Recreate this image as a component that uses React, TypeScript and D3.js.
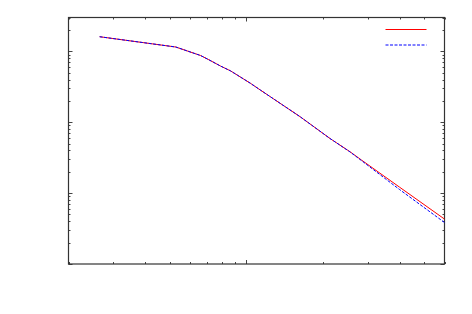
import React, { useEffect, useRef } from "react";
import * as d3 from "d3";

// (log-log axes, no tick labels shown)
const xValues = [2.65, 5.28, 6.61, 7.12, 7.91, 8.66, 9.2, 10.37, 11.34, 16.25, 21.3, 25.5, 28.3, 40.0, 60.0];
const redValues = [1.607, 1.15, 0.872, 0.76, 0.62, 0.53, 0.463, 0.354, 0.2845, 0.1196, 0.0589, 0.0384, 0.0293, 0.0121, 0.0043];
const blueValues = [1.607, 1.15, 0.872, 0.76, 0.62, 0.53, 0.463, 0.354, 0.2845, 0.1196, 0.0589, 0.0382, 0.0288, 0.0112, 0.00385];

const xDomain = [2, 60];
const yDomain = [0.001, 3];

export default function App() {
  const svgRef = useRef(null);

  useEffect(() => {
    if (!svgRef.current) return;
    const svg = d3.select(svgRef.current);
    svg.selectAll("*").remove();

    const left = 68.5, right = 444.5, top = 17.5, bottom = 264;

    const x = d3.scaleLog().domain(xDomain).range([left, right]);
    const y = d3.scaleLog().domain(yDomain).range([bottom, top]);

    const g = svg.append("g");

    // log ticks: majors at decades, minors 2..9
    const logTicks = (dom) => {
      const out = [];
      const lo = Math.floor(Math.log10(dom[0]));
      const hi = Math.ceil(Math.log10(dom[1]));
      for (let e = lo; e <= hi; e++) {
        for (let m = 1; m <= 9; m++) {
          const v = m * Math.pow(10, e);
          if (v >= dom[0] * 0.999 && v <= dom[1] * 1.001) out.push({ v, major: m === 1 });
        }
      }
      return out;
    };

    const tickColor = "#444";
    logTicks(xDomain).forEach((t) => {
      const px = Math.round(x(t.v)) + 0.5;
      const len = t.major ? 4 : 2;
      g.append("line").attr("x1", px).attr("x2", px).attr("y1", bottom).attr("y2", bottom - len)
        .attr("stroke", tickColor);
      g.append("line").attr("x1", px).attr("x2", px).attr("y1", top).attr("y2", top + len)
        .attr("stroke", tickColor);
    });
    logTicks(yDomain).forEach((t) => {
      const py = Math.round(y(t.v)) + 0.5;
      const len = t.major ? 4 : 2;
      g.append("line").attr("x1", left).attr("x2", left + len).attr("y1", py).attr("y2", py)
        .attr("stroke", tickColor);
      g.append("line").attr("x1", right).attr("x2", right - len).attr("y1", py).attr("y2", py)
        .attr("stroke", tickColor);
    });

    // frame
    g.append("rect")
      .attr("x", left).attr("y", top)
      .attr("width", right - left).attr("height", bottom - top)
      .attr("fill", "none").attr("stroke", "#333").attr("stroke-width", 1.2);

    const line = (vals) =>
      d3.line().x((d, i) => x(xValues[i])).y((d) => y(d))(vals);

    g.append("path").attr("d", line(redValues))
      .attr("fill", "none").attr("stroke", "#ff0000").attr("stroke-width", 1);
    g.append("path").attr("d", line(blueValues))
      .attr("fill", "none").attr("stroke", "#0000ff").attr("stroke-width", 1)
      .attr("stroke-dasharray", "3,1.5");

    // legend (no text in the original)
    g.append("line").attr("x1", 385.5).attr("x2", 426.5).attr("y1", 29.5).attr("y2", 29.5)
      .attr("stroke", "#ff0000");
    g.append("line").attr("x1", 385.5).attr("x2", 426.5).attr("y1", 45).attr("y2", 45)
      .attr("stroke", "#0000ff").attr("stroke-dasharray", "3,1.5");
  }, []);

  return (
    <svg
      ref={svgRef}
      width={472}
      height={314}
      style={{ position: "absolute", left: 0, top: 0, background: "#fff" }}
    />
  );
}
